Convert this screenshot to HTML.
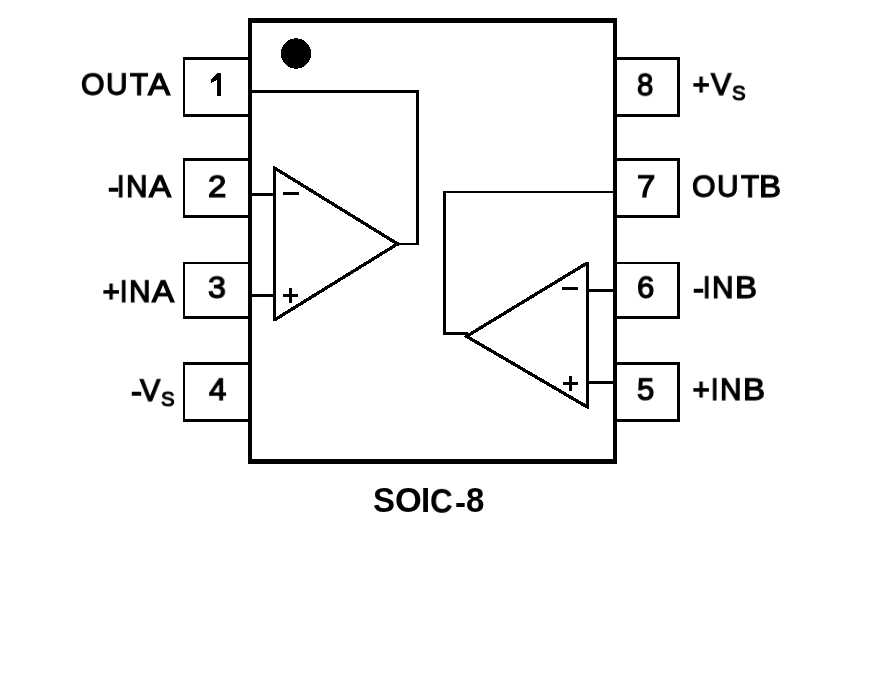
<!DOCTYPE html>
<html><head><meta charset="utf-8"><style>
html,body{margin:0;padding:0;background:#fff;width:894px;height:684px;overflow:hidden}
.t{position:absolute;font-family:"Liberation Sans",sans-serif;font-weight:normal;color:#000;white-space:nowrap;transform-origin:0 0;will-change:transform}
</style></head><body>
<svg width="894" height="684" viewBox="0 0 894 684" style="position:absolute;left:0;top:0"><g fill="#000" shape-rendering="crispEdges"><rect x="248" y="18" width="369" height="5"/><rect x="248" y="459" width="369" height="5"/><rect x="248" y="18" width="4" height="446"/><rect x="613" y="18" width="4" height="446"/><rect x="183" y="57" width="65" height="3"/><rect x="183" y="114" width="65" height="3"/><rect x="183" y="57" width="2" height="60"/><rect x="183" y="158" width="65" height="3"/><rect x="183" y="215" width="65" height="3"/><rect x="183" y="158" width="2" height="60"/><rect x="183" y="262" width="65" height="2"/><rect x="183" y="316" width="65" height="3"/><rect x="183" y="262" width="2" height="57"/><rect x="183" y="362" width="65" height="3"/><rect x="183" y="419" width="65" height="3"/><rect x="183" y="362" width="2" height="60"/><rect x="617" y="57" width="63" height="3"/><rect x="617" y="114" width="63" height="3"/><rect x="677" y="57" width="3" height="60"/><rect x="617" y="158" width="63" height="3"/><rect x="617" y="215" width="63" height="3"/><rect x="677" y="158" width="3" height="60"/><rect x="617" y="262" width="63" height="2"/><rect x="617" y="316" width="63" height="3"/><rect x="677" y="262" width="3" height="57"/><rect x="617" y="362" width="63" height="3"/><rect x="617" y="419" width="63" height="3"/><rect x="677" y="362" width="3" height="60"/><rect x="252" y="90" width="167" height="3"/><rect x="416" y="90" width="3" height="155"/><rect x="396" y="243" width="23" height="2"/><rect x="396" y="242" width="3" height="4"/><rect x="252" y="193" width="22" height="3"/><rect x="252" y="294" width="22" height="3"/><rect x="283" y="192" width="16" height="3"/><rect x="283" y="294" width="15" height="3"/><rect x="289" y="288" width="3" height="15"/><rect x="443" y="191" width="170" height="2"/><rect x="443" y="191" width="3" height="144"/><rect x="443" y="332" width="25" height="3"/><rect x="588" y="289" width="25" height="3"/><rect x="588" y="381" width="25" height="3"/><rect x="562" y="287" width="16" height="3"/><rect x="563" y="382" width="15" height="3"/><rect x="569" y="376" width="3" height="15"/></g><path fill="#000" fill-rule="evenodd" shape-rendering="crispEdges" d="M273.00,166.00 274.43,166.00 400.67,243.89 275.91,321.00 273.00,321.00Z M276.00,170.85 394.39,243.90 276.00,317.06Z"/><path fill="#000" fill-rule="evenodd" shape-rendering="crispEdges" d="M463.28,336.36 585.59,262.00 589.00,262.00 589.00,409.00 587.45,409.00Z M469.72,336.31 586.00,265.61 586.00,404.33Z"/><circle cx="296" cy="53.5" r="15.2" fill="#000" shape-rendering="crispEdges"/><path fill="#000" shape-rendering="crispEdges" d="M211,79 L216.5,74.5 L217,73 L221,73 L221,96 L217,96 L217,80 L211,83 Z"/></svg>
<div class="t" style="left:81.08px;top:69.32px;font-size:33px;line-height:33px;-webkit-text-stroke:1.4px #000;transform:scale(0.9167,0.9200)">O</div><div class="t" style="left:106.20px;top:69.32px;font-size:33px;line-height:33px;-webkit-text-stroke:1.4px #000;transform:scale(0.9000,0.9200)">U</div><div class="t" style="left:130.00px;top:69.32px;font-size:33px;line-height:33px;-webkit-text-stroke:1.4px #000;transform:scale(0.9000,0.9200)">T</div><div class="t" style="left:147.96px;top:69.32px;font-size:33px;line-height:33px;-webkit-text-stroke:1.4px #000;transform:scale(1.0019,0.9200)">A</div><div class="t" style="left:108.00px;top:171.00px;font-size:33px;line-height:33px;-webkit-text-stroke:1.4px #000;transform:scale(1.0000,1.0000)">-</div><div class="t" style="left:117.40px;top:171.32px;font-size:33px;line-height:33px;-webkit-text-stroke:1.4px #000;transform:scale(0.8000,0.9200)">I</div><div class="t" style="left:126.20px;top:171.32px;font-size:33px;line-height:33px;-webkit-text-stroke:1.4px #000;transform:scale(0.9000,0.9200)">N</div><div class="t" style="left:148.96px;top:171.32px;font-size:33px;line-height:33px;-webkit-text-stroke:1.4px #000;transform:scale(1.0019,0.9200)">A</div><div class="t" style="left:102.06px;top:276.47px;font-size:33px;line-height:33px;font-weight:bold;transform:scale(0.9412,0.9412)">+</div><div class="t" style="left:120.40px;top:276.32px;font-size:33px;line-height:33px;-webkit-text-stroke:1.4px #000;transform:scale(0.8000,0.9200)">I</div><div class="t" style="left:129.20px;top:276.32px;font-size:33px;line-height:33px;-webkit-text-stroke:1.4px #000;transform:scale(0.9000,0.9200)">N</div><div class="t" style="left:151.96px;top:276.32px;font-size:33px;line-height:33px;-webkit-text-stroke:1.4px #000;transform:scale(1.0019,0.9200)">A</div><div class="t" style="left:131.00px;top:375.00px;font-size:33px;line-height:33px;-webkit-text-stroke:1.4px #000;transform:scale(1.0000,1.0000)">-</div><div class="t" style="left:139.88px;top:375.32px;font-size:33px;line-height:33px;-webkit-text-stroke:1.4px #000;transform:scale(0.9188,0.9200)">V</div><div class="t" style="left:161.08px;top:389.19px;font-size:22px;line-height:22px;-webkit-text-stroke:1.2px #000;transform:scale(0.9231,0.9375)">S</div><div class="t" style="left:692.06px;top:69.47px;font-size:33px;line-height:33px;font-weight:bold;transform:scale(0.9412,0.9412)">+</div><div class="t" style="left:710.88px;top:69.32px;font-size:33px;line-height:33px;-webkit-text-stroke:1.4px #000;transform:scale(0.9188,0.9200)">V</div><div class="t" style="left:732.08px;top:83.19px;font-size:22px;line-height:22px;-webkit-text-stroke:1.2px #000;transform:scale(0.9231,0.9375)">S</div><div class="t" style="left:692.08px;top:171.32px;font-size:33px;line-height:33px;-webkit-text-stroke:1.4px #000;transform:scale(0.9167,0.9200)">O</div><div class="t" style="left:717.20px;top:171.32px;font-size:33px;line-height:33px;-webkit-text-stroke:1.4px #000;transform:scale(0.9000,0.9200)">U</div><div class="t" style="left:741.00px;top:171.32px;font-size:33px;line-height:33px;-webkit-text-stroke:1.4px #000;transform:scale(0.9000,0.9200)">T</div><div class="t" style="left:759.00px;top:171.32px;font-size:33px;line-height:33px;-webkit-text-stroke:1.4px #000;transform:scale(1.0000,0.9200)">B</div><div class="t" style="left:693.00px;top:272.00px;font-size:33px;line-height:33px;-webkit-text-stroke:1.4px #000;transform:scale(1.0000,1.0000)">-</div><div class="t" style="left:703.40px;top:272.32px;font-size:33px;line-height:33px;-webkit-text-stroke:1.4px #000;transform:scale(0.8000,0.9200)">I</div><div class="t" style="left:712.20px;top:272.32px;font-size:33px;line-height:33px;-webkit-text-stroke:1.4px #000;transform:scale(0.9000,0.9200)">N</div><div class="t" style="left:735.00px;top:272.32px;font-size:33px;line-height:33px;-webkit-text-stroke:1.4px #000;transform:scale(1.0000,0.9200)">B</div><div class="t" style="left:692.06px;top:374.47px;font-size:33px;line-height:33px;font-weight:bold;transform:scale(0.9412,0.9412)">+</div><div class="t" style="left:711.40px;top:374.32px;font-size:33px;line-height:33px;-webkit-text-stroke:1.4px #000;transform:scale(0.8000,0.9200)">I</div><div class="t" style="left:720.20px;top:374.32px;font-size:33px;line-height:33px;-webkit-text-stroke:1.4px #000;transform:scale(0.9000,0.9200)">N</div><div class="t" style="left:743.00px;top:374.32px;font-size:33px;line-height:33px;-webkit-text-stroke:1.4px #000;transform:scale(1.0000,0.9200)">B</div><div class="t" style="left:373.00px;top:482.07px;font-size:33px;line-height:33px;font-weight:bold;transform:scale(1.0000,1.0870)">S</div><div class="t" style="left:394.96px;top:482.07px;font-size:33px;line-height:33px;font-weight:bold;transform:scale(1.0435,1.0870)">O</div><div class="t" style="left:421.00px;top:482.07px;font-size:33px;line-height:33px;font-weight:bold;transform:scale(1.0000,1.0870)">I</div><div class="t" style="left:430.05px;top:482.07px;font-size:33px;line-height:33px;font-weight:bold;transform:scale(0.9545,1.0870)">C</div><div class="t" style="left:455.00px;top:485.50px;font-size:33px;line-height:33px;font-weight:bold;transform:scale(1.0000,1.0000)">-</div><div class="t" style="left:466.00px;top:482.07px;font-size:33px;line-height:33px;font-weight:bold;transform:scale(1.0000,1.0870)">8</div><div class="t" style="left:208.00px;top:171.32px;font-size:33px;line-height:33px;-webkit-text-stroke:1.4px #000;transform:scale(1.0000,0.9200)">2</div><div class="t" style="left:208.06px;top:272.32px;font-size:33px;line-height:33px;-webkit-text-stroke:1.4px #000;transform:scale(0.9725,0.9217)">3</div><div class="t" style="left:209.00px;top:374.32px;font-size:33px;line-height:33px;-webkit-text-stroke:1.4px #000;transform:scale(0.9444,0.9200)">4</div><div class="t" style="left:637.12px;top:69.32px;font-size:33px;line-height:33px;-webkit-text-stroke:1.4px #000;transform:scale(0.8863,0.9418)">8</div><div class="t" style="left:637.00px;top:171.32px;font-size:33px;line-height:33px;-webkit-text-stroke:1.4px #000;transform:scale(1.0000,0.9200)">7</div><div class="t" style="left:637.06px;top:272.32px;font-size:33px;line-height:33px;-webkit-text-stroke:1.4px #000;transform:scale(0.9412,0.9217)">6</div><div class="t" style="left:637.06px;top:374.32px;font-size:33px;line-height:33px;-webkit-text-stroke:1.4px #000;transform:scale(0.9412,0.9200)">5</div>
</body></html>
